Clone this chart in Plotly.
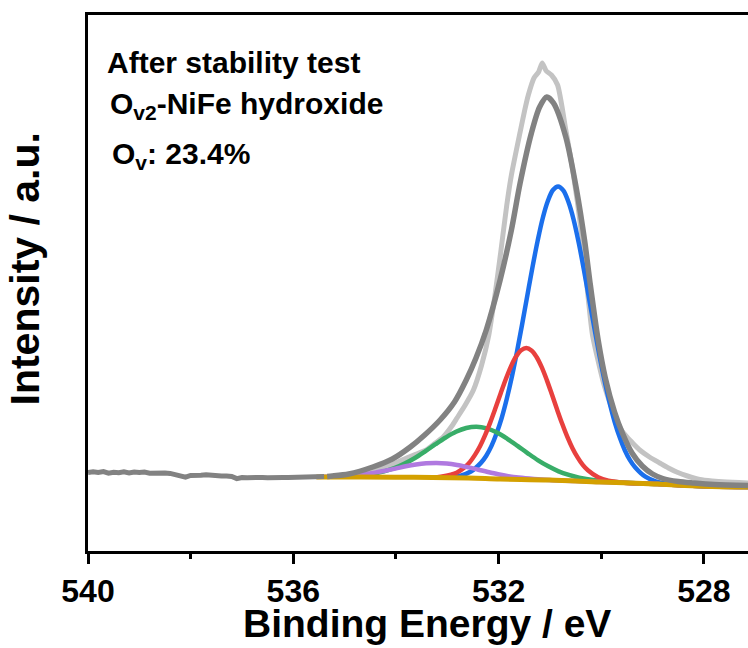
import plotly.graph_objects as go

# ---------------- data (binding energy in eV, intensity in a.u.) ----------------
# noisy raw signal outside the fitted window (dark grey)
raw_left_e = [540.0, 539.9, 539.8, 539.7, 539.6, 539.5, 539.4, 539.3, 539.2, 539.1,
              539.0, 538.9, 538.8, 538.7, 538.6, 538.5, 538.4, 538.3, 538.2, 538.1,
              538.0, 537.9, 537.8, 537.7, 537.6, 537.5, 537.4, 537.3, 537.2, 537.1,
              537.0, 536.9, 536.8, 536.7, 536.6, 536.5, 536.4, 536.3, 536.2, 536.1,
              536.0, 535.9, 535.8, 535.7, 535.6, 535.5, 535.4]
raw_left_i = [77.5, 78.3, 77.6, 78.5, 76.9, 77.8, 77.2, 78.1, 77.0, 78.0,
              77.4, 77.9, 76.8, 77.2, 76.5, 77.1, 76.6, 75.4, 75.0, 72.9,
              74.6, 75.3, 74.8, 75.2, 74.4, 74.6, 73.9, 74.0, 73.6, 71.4,
              72.5, 72.3, 72.8, 72.2, 72.6, 72.3, 72.8, 72.2, 72.6, 72.4,
              72.7, 72.5, 72.8, 72.9, 73.1, 73.3, 73.5]

# raw data inside the fitted window (light grey)
raw_e = [535.34, 535.13, 534.92, 534.71, 534.49, 534.28, 534.07, 533.86, 533.65, 533.41,
         533.23, 533.08, 532.91, 532.81, 532.65, 532.49, 532.33, 532.19, 532.07, 531.96,
         531.84, 531.75, 531.58, 531.49, 531.42, 531.31, 531.22, 531.15, 531.07, 530.97,
         530.85, 530.69, 530.54, 530.38, 530.25, 530.17, 529.97, 529.85, 529.73, 529.62,
         529.50, 529.37, 529.25, 529.06, 528.86, 528.69, 528.53, 528.32, 528.08, 527.84,
         527.56, 527.31, 527.14]
raw_i = [73.2, 74.0, 75.0, 76.5, 78.5, 81.5, 85.5, 90.5, 95.0, 100.0,
         107.0, 113.0, 124.0, 132.0, 145.0, 160.0, 185.0, 215.0, 255.0, 297.0,
         345.0, 375.0, 418.0, 440.0, 455.0, 472.0, 478.0, 487.0, 479.0, 475.0,
         465.0, 420.0, 375.0, 315.0, 250.0, 215.0, 170.0, 150.0, 133.0, 121.0,
         113.0, 106.0, 100.0, 93.0, 87.0, 82.0, 78.0, 74.0, 70.5, 69.0,
         68.0, 67.5, 67.0]

# cumulative fit envelope (dark grey)
env_e = [535.34, 535.24, 534.92, 534.45, 534.07, 533.72, 533.44, 533.14, 532.86, 532.63,
         532.44, 532.24, 531.97, 531.75, 531.58, 531.36, 531.20, 531.06, 530.93, 530.69,
         530.48, 530.32, 530.22, 530.06, 529.92, 529.74, 529.58, 529.40, 529.20, 529.00,
         528.80, 528.50, 528.20, 527.80, 527.14]
env_i = [73.6, 74.0, 76.0, 83.0, 91.0, 103.0, 115.0, 130.0, 148.0, 170.0,
         192.0, 220.0, 270.0, 320.0, 367.0, 417.0, 443.0, 453.0, 447.0, 413.0,
         360.0, 308.0, 268.0, 210.0, 172.0, 138.0, 116.0, 97.0, 84.0, 76.0,
         71.5, 68.5, 67.0, 65.5, 64.5]

# fitted component peaks
blue_e = [533.23, 532.94, 532.74, 532.54, 532.34, 532.24, 532.14, 532.04, 531.94, 531.84,
          531.74, 531.64, 531.54, 531.44, 531.34, 531.24, 531.14, 531.04, 530.94, 530.84,
          530.74, 530.64, 530.54, 530.44, 530.34, 530.24, 530.14, 530.04, 529.94, 529.84,
          529.74, 529.64, 529.54, 529.44, 529.34, 529.14, 528.94, 528.64, 528.20, 527.70,
          527.14]
blue_i = [72.5, 72.8, 74.4, 78.5, 87.4, 94.3, 103.9, 116.5, 131.9, 151.2,
          173.4, 198.6, 226.0, 254.4, 282.6, 308.9, 331.8, 349.0, 360.0, 363.6,
          359.6, 348.2, 330.8, 307.6, 281.0, 252.5, 223.8, 196.0, 170.5, 148.0,
          128.5, 112.7, 99.8, 89.9, 82.8, 73.3, 68.7, 65.8, 64.3, 63.5,
          63.0]

red_e = [533.26, 532.86, 532.66, 532.56, 532.46, 532.36, 532.26, 532.16, 532.06, 531.96,
         531.86, 531.76, 531.66, 531.56, 531.46, 531.36, 531.26, 531.16, 531.06, 530.96,
         530.86, 530.76, 530.66, 530.56, 530.46, 530.36, 530.26, 530.06, 529.86, 529.50,
         528.90, 528.37, 527.84, 527.14]
red_i = [72.2, 76.3, 82.8, 87.9, 95.1, 104.0, 115.1, 127.9, 141.9, 156.5,
         170.7, 183.4, 193.4, 199.8, 201.9, 199.6, 193.0, 182.8, 169.9, 155.4,
         140.5, 126.2, 113.1, 101.8, 92.6, 85.1, 79.7, 72.7, 69.3, 67.1,
         66.0, 64.5, 63.5, 63.0]

green_e = [535.03, 534.73, 534.43, 534.23, 534.03, 533.83, 533.63, 533.43, 533.23, 533.03,
           532.83, 532.63, 532.43, 532.23, 532.03, 531.83, 531.63, 531.43, 531.23, 531.03,
           530.83, 530.63, 530.43, 530.13, 529.83, 529.43, 528.90, 528.37, 527.84, 527.14]
green_i = [73.5, 74.4, 76.3, 78.6, 81.8, 86.4, 92.0, 98.7, 105.8, 112.5,
           118.2, 122.0, 123.3, 121.7, 117.4, 111.2, 104.1, 96.7, 89.7, 83.7,
           78.7, 75.1, 72.3, 69.7, 68.2, 67.0, 66.0, 64.5, 63.5, 63.0]

purple_e = [535.41, 535.11, 534.81, 534.61, 534.41, 534.21, 534.01, 533.81, 533.61, 533.41,
            533.21, 533.01, 532.81, 532.61, 532.41, 532.21, 532.01, 531.81, 531.61, 531.31,
            531.01, 530.50, 530.03, 529.43, 528.90, 528.37, 527.84, 527.14]
purple_i = [73.3, 73.7, 74.8, 75.9, 77.4, 79.3, 81.4, 83.7, 85.5, 86.7,
            87.1, 86.5, 85.0, 82.9, 80.5, 78.0, 75.7, 73.8, 72.4, 71.0,
            70.0, 69.0, 68.0, 67.0, 66.0, 64.5, 63.5, 63.0]

# background (gold)
bg_e = [535.55, 534.71, 533.65, 532.59, 531.97, 531.01, 530.03, 529.43, 528.90, 528.37,
        527.84, 527.31, 527.14]
bg_i = [73.0, 73.0, 72.7, 72.0, 71.0, 70.0, 68.0, 67.0, 66.0, 64.5,
        63.5, 63.0, 63.0]

x_ticks = [540, 536, 532, 528]
x_minor = [538, 534, 530]

# ---------------- styling ----------------
C_LIGHT = "#c3c3c3"
C_DARK = "#828282"
C_BLUE = "#1b6fec"
C_RED = "#e8403e"
C_GREEN = "#38ad68"
C_PURPLE = "#b079e0"
C_GOLD = "#d4a000"
FONT = "Liberation Sans, Arial, sans-serif"

fig = go.Figure()

def add(x, y, color, width, shape="spline", smooth=1.0):
    line = dict(color=color, width=width, shape=shape)
    if shape == "spline":
        line["smoothing"] = smooth
    fig.add_trace(go.Scatter(x=x, y=y, mode="lines", showlegend=False,
                             line=line, hoverinfo="skip"))

add(raw_e, raw_i, C_LIGHT, 5, smooth=0.6)
add(blue_e, blue_i, C_BLUE, 4.5)
add(green_e, green_i, C_GREEN, 4.5)
add(red_e, red_i, C_RED, 4.5)
add(purple_e, purple_i, C_PURPLE, 4.5)
add(bg_e, bg_i, C_GOLD, 5)
add(raw_left_e, raw_left_i, C_DARK, 5, shape="linear")
add(env_e, env_i, C_DARK, 5.5, smooth=0.8)

annots = [
    dict(text="<b>After stability test</b>", x=0.0253, y=0.9465),
    dict(text="<b>O<sub>v2</sub>-NiFe hydroxide</b>", x=0.0303, y=0.8700),
    dict(text="<b>O<sub>v</sub>: 23.4%</b>", x=0.0333, y=0.7767),
]
for a in annots:
    fig.add_annotation(text=a["text"], x=a["x"], y=a["y"], xref="paper", yref="paper",
                       xanchor="left", yanchor="top", showarrow=False,
                       font=dict(family=FONT, size=30, color="black"))

fig.add_annotation(text="<b>Binding Energy / eV</b>", x=0.5129, y=-0.136,
                   xref="paper", yref="paper", xanchor="center", yanchor="middle",
                   showarrow=False, font=dict(family=FONT, size=39, color="black"))
fig.add_annotation(text="<b>Intensity / a.u.</b>", x=-0.0955, y=0.527, textangle=-90,
                   xref="paper", yref="paper", xanchor="center", yanchor="middle",
                   showarrow=False, font=dict(family=FONT, size=41, color="black"))

fig.update_layout(
    width=748, height=648,
    margin=dict(l=88, r=0, t=15, b=97),
    paper_bgcolor="white", plot_bgcolor="white",
    xaxis=dict(range=[540, 527.14], showgrid=False, zeroline=False,
               showline=True, linecolor="black", linewidth=3, mirror=True,
               ticks="outside", ticklen=10, tickwidth=3, tickcolor="black",
               tickvals=x_ticks, ticktext=[str(t) for t in x_ticks],
               tickfont=dict(family=FONT, size=32, color="black", weight="bold"),
               minor=dict(tickvals=x_minor, ticks="outside", ticklen=5,
                          tickwidth=3, tickcolor="black", showgrid=False)),
    yaxis=dict(range=[-1, 535], showgrid=False, zeroline=False,
               showline=True, linecolor="black", linewidth=3, mirror=False,
               ticks="", showticklabels=False),
)

fig.write_html("out.html")
